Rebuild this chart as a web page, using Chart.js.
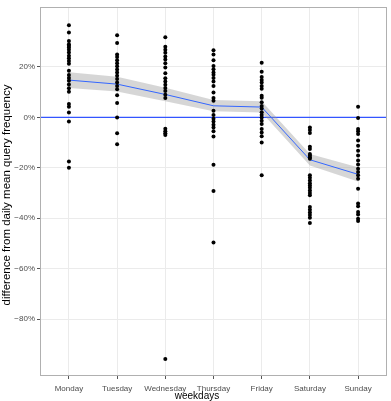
<!DOCTYPE html>
<html>
<head>
<meta charset="utf-8">
<script src="https://cdn.jsdelivr.net/npm/chart.js@4"></script>
<style>
  html, body { margin: 0; padding: 0; background: #fff; }
  #wrap { width: 391px; height: 401px; }
</style>
</head>
<body>
<div id="wrap"><canvas id="chart" width="391" height="401"></canvas></div>
<script>
// categories
const days = ['Monday', 'Tuesday', 'Wednesday', 'Thursday', 'Friday', 'Saturday', 'Sunday'];

// observed differences (%) per weekday
const monday = [36.6, 33.7, 30.3, 29.0, 28.4, 27.7, 26.8, 25.7, 24.5, 23.5, 22.4, 21.3, 18.5, 16.8, 15.6, 14.5, 13.1, 11.6, 10.2, 5.3, 4.2, 1.9, -1.6, -17.5, -20.0];
const tuesday = [32.6, 29.5, 25.0, 24.0, 22.7, 21.5, 20.3, 19.0, 17.8, 16.5, 15.2, 13.8, 12.5, 11.2, 8.8, 5.7, 0.0, -6.3, -10.7];
const wednesday = [31.8, 28.0, 26.8, 25.6, 24.2, 23.0, 21.5, 19.8, 17.5, 15.5, 14.2, 13.0, 11.7, 10.5, 9.0, 7.7, -4.5, -5.5, -6.3, -7.0, -95.9];
const thursday = [26.6, 25.0, 22.7, 20.4, 19.1, 17.8, 16.9, 15.6, 14.2, 12.5, 9.9, 7.7, 6.6, 2.6, 1.0, -0.5, -1.6, -2.9, -4.0, -5.5, -7.6, -18.8, -29.2, -49.6];
const friday = [21.7, 18.1, 16.0, 14.8, 13.8, 12.5, 11.4, 8.6, 7.8, 6.0, 4.5, 3.5, 2.0, 1.0, 0.0, -1.3, -2.6, -4.6, -6.0, -7.5, -10.0, -23.0];
const saturday = [-4.0, -5.0, -6.2, -11.6, -12.5, -14.5, -15.1, -15.8, -16.4, -23.0, -23.9, -25.0, -26.1, -27.0, -27.9, -29.0, -30.0, -30.9, -35.5, -36.6, -37.7, -38.7, -39.8, -41.9];
const sunday = [4.2, -0.2, -4.6, -5.5, -6.6, -9.2, -11.2, -13.2, -15.1, -17.1, -18.7, -20.4, -21.7, -23.0, -24.3, -28.3, -34.2, -35.3, -37.5, -38.5, -40.2, -41.1];

// smoothed fit and its confidence band
const fitMean = [14.8, 13.2, 9.1, 4.6, 4.1, -16.8, -22.6];
const fitLower = [11.7, 10.3, 6.4, 2.4, 1.9, -19.1, -25.4];
const fitUpper = [17.9, 16.1, 11.8, 6.9, 6.4, -14.5, -19.8];

// tick labels
const yTicks = [-80, -60, -40, -20, 0, 20];

const dayValues = [monday, tuesday, wednesday, thursday, friday, saturday, sunday];
const points = [];
dayValues.forEach((vals, i) => {
  vals.forEach(v => points.push({ x: i, y: v }));
});
const toXY = arr => arr.map((v, i) => ({ x: i, y: v }));

const fontFamily = '"Liberation Sans", Arial, Helvetica, sans-serif';

// panel border, zero line and axis titles
const decorations = {
  id: 'decorations',
  beforeDatasetsDraw(chart) {
    const { ctx, chartArea, scales } = chart;
    const y0 = scales.y.getPixelForValue(0);
    ctx.save();
    ctx.strokeStyle = '#3355ff';
    ctx.lineWidth = 1.4;
    ctx.beginPath();
    ctx.moveTo(chartArea.left, y0);
    ctx.lineTo(chartArea.right, y0);
    ctx.stroke();
    ctx.restore();
  },
  afterDraw(chart) {
    const { ctx, chartArea } = chart;
    ctx.save();
    ctx.strokeStyle = '#b0b0b0';
    ctx.lineWidth = 1;
    ctx.strokeRect(chartArea.left + 0.5, chartArea.top + 0.5,
      chartArea.right - chartArea.left - 1, chartArea.bottom - chartArea.top - 1);

    ctx.fillStyle = '#000';
    ctx.textAlign = 'center';
    ctx.textBaseline = 'middle';
    ctx.font = '10px ' + fontFamily;
    ctx.fillText('weekdays', 197, 396);

    ctx.font = '11.5px ' + fontFamily;
    ctx.translate(7, 195);
    ctx.rotate(-Math.PI / 2);
    ctx.fillText('difference from daily mean query frequency', 0, 0);
    ctx.restore();
  }
};

const ctx = document.getElementById('chart').getContext('2d');
new Chart(ctx, {
  type: 'scatter',
  data: {
    datasets: [
      {
        label: 'observations',
        data: points,
        pointRadius: 2,
        pointBackgroundColor: '#000',
        pointBorderWidth: 0
      },
      {
        type: 'line',
        label: 'fit',
        data: toXY(fitMean),
        borderColor: '#3366FF',
        borderWidth: 1,
        pointRadius: 0,
        fill: false
      },
      {
        type: 'line',
        label: 'upper',
        data: toXY(fitUpper),
        borderWidth: 0,
        borderColor: 'rgba(0,0,0,0)',
        pointRadius: 0,
        fill: '+1',
        backgroundColor: 'rgba(153,153,153,0.4)'
      },
      {
        type: 'line',
        label: 'lower',
        data: toXY(fitLower),
        borderWidth: 0,
        borderColor: 'rgba(0,0,0,0)',
        pointRadius: 0,
        fill: false
      }
    ]
  },
  options: {
    responsive: false,
    animation: false,
    devicePixelRatio: 1,
    layout: { padding: { top: 7, right: 3, left: 0, bottom: 0 } },
    plugins: {
      legend: { display: false },
      tooltip: { enabled: false }
    },
    scales: {
      x: {
        type: 'linear',
        min: -0.6,
        max: 6.6,
        afterBuildTicks: scale => { scale.ticks = days.map((d, i) => ({ value: i })); },
        afterFit: scale => { scale.height = 25; },
        ticks: {
          autoSkip: false,
          maxRotation: 0,
          padding: 5,
          color: '#4d4d4d',
          font: { family: fontFamily, size: 8 },
          callback: v => days[v]
        },
        grid: { color: '#ebebeb', tickColor: '#555', tickLength: 3 },
        border: { display: false }
      },
      y: {
        min: -102.6,
        max: 43.8,
        afterBuildTicks: scale => { scale.ticks = yTicks.map(v => ({ value: v })); },
        afterFit: scale => { scale.width = 40; },
        ticks: {
          padding: 2,
          color: '#4d4d4d',
          font: { family: fontFamily, size: 8 },
          callback: v => (v < 0 ? '\u2212' + Math.abs(v) : v) + '%'
        },
        grid: { color: '#ebebeb', tickColor: '#555', tickLength: 3 },
        border: { display: false }
      }
    }
  },
  plugins: [decorations]
});
</script>
</body>
</html>
